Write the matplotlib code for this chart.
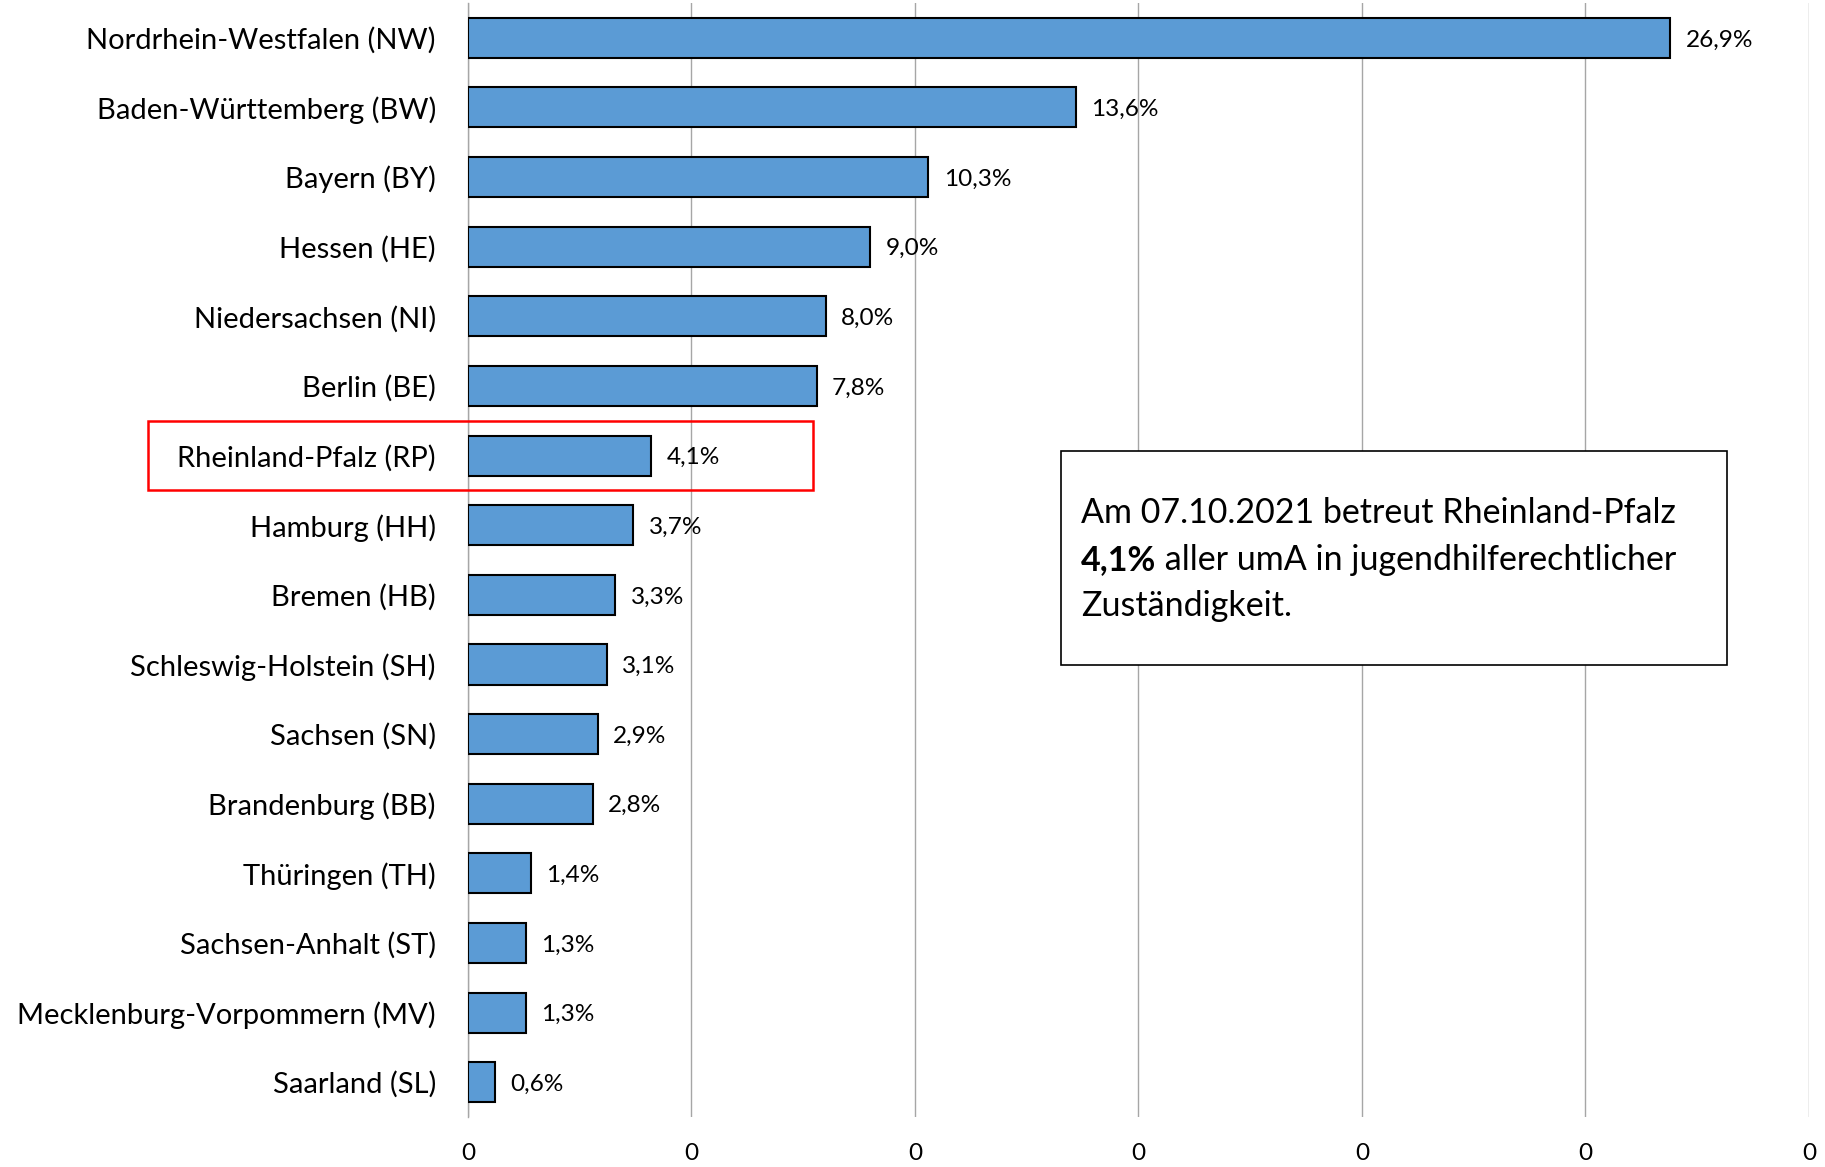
import numpy as np
import matplotlib.pyplot as plt
from matplotlib.patches import Rectangle
from matplotlib.transforms import blended_transform_factory

plt.rcParams['font.family'] = ['Lato', 'DejaVu Sans']

# share of umA per federal state, 07.10.2021
states = ['Nordrhein-Westfalen (NW)', 'Baden-Württemberg (BW)', 'Bayern (BY)',
          'Hessen (HE)', 'Niedersachsen (NI)', 'Berlin (BE)',
          'Rheinland-Pfalz (RP)', 'Hamburg (HH)', 'Bremen (HB)',
          'Schleswig-Holstein (SH)', 'Sachsen (SN)', 'Brandenburg (BB)',
          'Thüringen (TH)', 'Sachsen-Anhalt (ST)',
          'Mecklenburg-Vorpommern (MV)', 'Saarland (SL)']
shares = [0.269, 0.136, 0.103, 0.090, 0.080, 0.078, 0.041, 0.037, 0.033,
          0.031, 0.029, 0.028, 0.014, 0.013, 0.013, 0.006]
value_labels = ['26,9%', '13,6%', '10,3%', '9,0%', '8,0%', '7,8%', '4,1%',
                '3,7%', '3,3%', '3,1%', '2,9%', '2,8%', '1,4%', '1,3%',
                '1,3%', '0,6%']
x_ticks = [0, 0.05, 0.10, 0.15, 0.20, 0.25, 0.30]
x_tick_labels = ['0'] * len(x_ticks)
highlight = 'Rheinland-Pfalz (RP)'

fig = plt.figure(figsize=(18.25, 11.67), dpi=100)
ax = fig.add_axes([0.2564, 0.0428, 0.7348, 0.9546])

pos = np.arange(len(states))
ax.barh(pos, shares, height=0.575, color='#5B9BD5', edgecolor='black',
        linewidth=1.5, zorder=3)

for p, v, lab in zip(pos, shares, value_labels):
    ax.annotate(lab, (v, p), xytext=(11, 0), textcoords='offset points',
                ha='left', va='center_baseline', fontsize=17.6, zorder=4)

ax.set_ylim(len(states) - 0.5, -0.5)
ax.set_xlim(0, 0.30)
ax.set_yticks(pos)
ax.set_yticklabels(states, fontsize=21, va='center_baseline')
ax.set_xticks(x_ticks)
ax.set_xticklabels(x_tick_labels, fontsize=17.6)
ax.tick_params(axis='y', length=0, pad=23)
ax.tick_params(axis='x', length=0, pad=19)
ax.grid(axis='x', color='#a6a6a6', linewidth=1.0, zorder=0)
ax.set_axisbelow(True)
for s in ['top', 'right', 'bottom']:
    ax.spines[s].set_visible(False)
ax.spines['left'].set_color('#a6a6a6')
ax.spines['left'].set_linewidth(1.0)

# red frame around Rheinland-Pfalz
rp = states.index(highlight)
tr = blended_transform_factory(ax.transAxes, ax.transData)
ax.add_patch(Rectangle((-0.2386, rp - 0.49), 0.4959, 0.98, transform=tr,
                       fill=False, edgecolor='#ff0000', linewidth=1.8,
                       clip_on=False, zorder=5))

# note box
ax.add_patch(Rectangle((0.442, 0.406), 0.497, 0.192, transform=ax.transAxes,
                       facecolor='white', edgecolor='black', linewidth=1.2,
                       zorder=5))
ax.text(0.457, 0.542, 'Am 07.10.2021 betreut Rheinland-Pfalz',
        transform=ax.transAxes, fontsize=24.5, va='center', zorder=6)
t = ax.text(0.457, 0.500, '4,1%', transform=ax.transAxes, fontsize=24.5,
            fontweight='bold', va='center', zorder=6)
ax.annotate(' aller umA in jugendhilferechtlicher', xy=(1, 0), xycoords=t,
            fontsize=24.5, va='bottom', ha='left', zorder=6)
ax.text(0.457, 0.4587, 'Zuständigkeit.', transform=ax.transAxes,
        fontsize=24.5, va='center', zorder=6)

fig.savefig('out.png', dpi=100)
